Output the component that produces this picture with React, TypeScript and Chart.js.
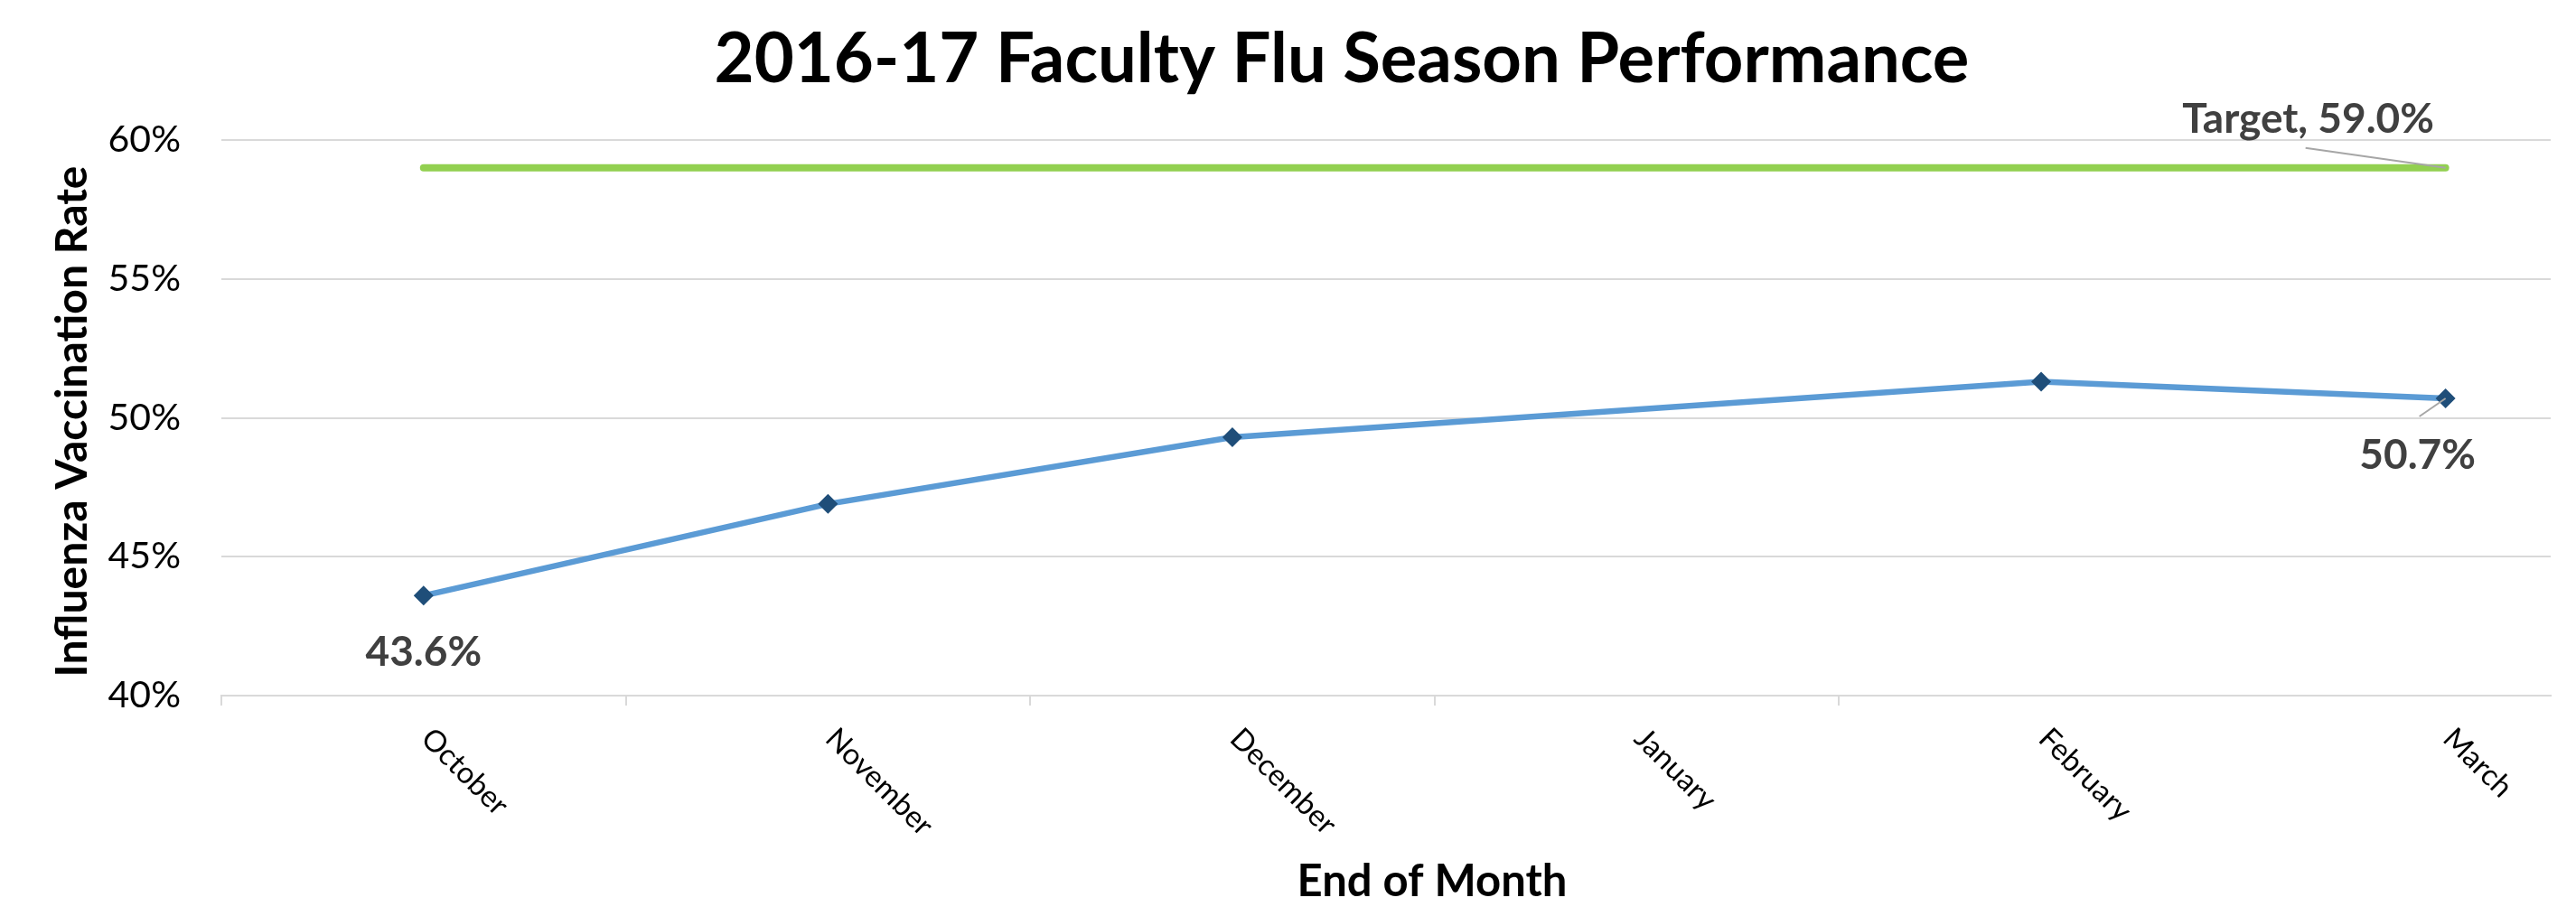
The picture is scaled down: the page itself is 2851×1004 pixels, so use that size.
import { useEffect, useRef } from "react";
import { Chart, registerables } from "chart.js";

Chart.register(...registerables);

// ---- data ----
const MONTHS = ["October", "November", "December", "January", "February", "March"];
const RATE: (number | null)[] = [43.6, 46.9, 49.3, null, 51.3, 50.7];
const TARGET = [59, 59, 59, 59, 59, 59];
const LABELLED_RATE_POINTS = [0, 5];
const TARGET_NAME = "Target";
const TITLE = "2016-17 Faculty Flu Season Performance";
const Y_TITLE = "Influenza Vaccination Rate";
const X_TITLE = "End of Month";
const Y_MIN = 40;
const Y_MAX = 60;
const Y_STEP = 5;

const FONT = "Lato, 'Open Sans', sans-serif";

const decorPlugin = {
  id: "decor",
  afterDatasetsDraw(chart: any) {
    const { ctx, scales, chartArea } = chart;
    const x = scales.x;
    const y = scales.y;
    ctx.save();

    // x category labels (rotated 45deg clockwise)
    ctx.fillStyle = "#000000";
    ctx.font = `33px ${FONT}`;
    ctx.textAlign = "left";
    ctx.textBaseline = "middle";
    MONTHS.forEach((m, i) => {
      const px = x.getPixelForValue(i);
      ctx.save();
      ctx.translate(px + 3, chartArea.bottom + 42);
      ctx.rotate(Math.PI / 4);
      ctx.fillText(m, 0, 0);
      ctx.restore();
    });

    // data labels with leader lines
    ctx.strokeStyle = "#A6A6A6";
    ctx.lineWidth = 2;
    ctx.fillStyle = "#404040";
    ctx.font = `bold 46px ${FONT}`;
    ctx.textAlign = "center";
    ctx.textBaseline = "alphabetic";
    LABELLED_RATE_POINTS.forEach((i) => {
      const v = RATE[i] as number;
      const px = x.getPixelForValue(i);
      const py = y.getPixelForValue(v);
      const text = v.toFixed(1) + "%";
      if (i === MONTHS.length - 1) {
        ctx.beginPath();
        ctx.moveTo(px, py);
        ctx.lineTo(px - 29, py + 20);
        ctx.stroke();
        ctx.fillText(text, px - 31, py + 78);
      } else {
        ctx.fillText(text, px, py + 78);
      }
    });

    // target label
    const ti = TARGET.length - 1;
    const tx = x.getPixelForValue(ti);
    const ty = y.getPixelForValue(TARGET[ti]);
    ctx.beginPath();
    ctx.moveTo(tx, ty);
    ctx.lineTo(tx - 155, ty - 22);
    ctx.stroke();
    ctx.fillText(`${TARGET_NAME}, ${TARGET[ti].toFixed(1)}%`, tx - 152, ty - 39);

    // chart title
    ctx.fillStyle = "#000000";
    ctx.font = `bold 76px ${FONT}`;
    ctx.textAlign = "center";
    ctx.fillText(TITLE, 1485, 91);

    // x axis title
    ctx.font = `bold 49px ${FONT}`;
    ctx.fillText(X_TITLE, (chartArea.left + chartArea.right) / 2 + 51, 992);

    // y axis title
    ctx.save();
    ctx.translate(96, (chartArea.top + chartArea.bottom) / 2 + 4);
    ctx.rotate(-Math.PI / 2);
    ctx.font = `bold 48px ${FONT}`;
    ctx.fillText(Y_TITLE, 0, 0);
    ctx.restore();

    ctx.restore();
  },
};

export default function App() {
  const canvasRef = useRef<HTMLCanvasElement | null>(null);

  useEffect(() => {
    const canvas = canvasRef.current;
    if (!canvas) return;
    const chart = new Chart(canvas, {
      type: "line",
      data: {
        datasets: [
          {
            label: TARGET_NAME,
            data: TARGET.map((v, i) => ({ x: i, y: v })),
            borderColor: "#92D050",
            backgroundColor: "#92D050",
            borderWidth: 8,
            borderCapStyle: "round",
            pointRadius: 0,
            fill: false,
            tension: 0,
          },
          {
            label: "Rate",
            data: RATE.map((v, i) => ({ x: i, y: v })),
            borderColor: "#5B9BD5",
            backgroundColor: "#1F4E79",
            borderWidth: 6.5,
            pointStyle: "rectRot",
            pointRadius: 11,
            pointBackgroundColor: "#1F4E79",
            pointBorderColor: "#1F4E79",
            pointBorderWidth: 0,
            spanGaps: true,
            fill: false,
            tension: 0,
          },
        ] as any,
      },
      options: {
        animation: false,
        responsive: true,
        maintainAspectRatio: false,
        devicePixelRatio: 1,
        layout: { padding: { top: 155, right: 28, left: 0, bottom: 0 } },
        plugins: {
          legend: { display: false },
          tooltip: { enabled: false },
          title: { display: false },
        },
        scales: {
          x: {
            type: "linear",
            min: -0.5,
            max: 5.26,
            afterBuildTicks: (scale: any) => {
              scale.ticks = MONTHS.slice(0, 5).map((_, i) => ({ value: i - 0.5 }));
            },
            afterFit: (scale: any) => {
              scale.height = 234;
            },
            ticks: { display: false },
            grid: {
              drawOnChartArea: false,
              drawTicks: true,
              tickLength: 11,
              color: "#D9D9D9",
              lineWidth: 2,
            },
            border: { display: true, color: "#D9D9D9", width: 2 },
          },
          y: {
            type: "linear",
            min: Y_MIN,
            max: Y_MAX,
            afterFit: (scale: any) => {
              scale.width = 245;
            },
            ticks: {
              stepSize: Y_STEP,
              padding: 45,
              color: "#000000",
              font: { family: FONT, size: 41 },
              callback: (v: any) => `${v}%`,
            },
            grid: { color: "#D9D9D9", lineWidth: 2, drawTicks: false },
            border: { display: false },
          },
        },
      } as any,
      plugins: [decorPlugin],
    });
    return () => chart.destroy();
  }, []);

  return (
    <div
      style={{
        position: "fixed",
        left: 0,
        top: 0,
        width: 2851,
        height: 1004,
        background: "#ffffff",
      }}
    >
      <canvas ref={canvasRef} />
    </div>
  );
}
